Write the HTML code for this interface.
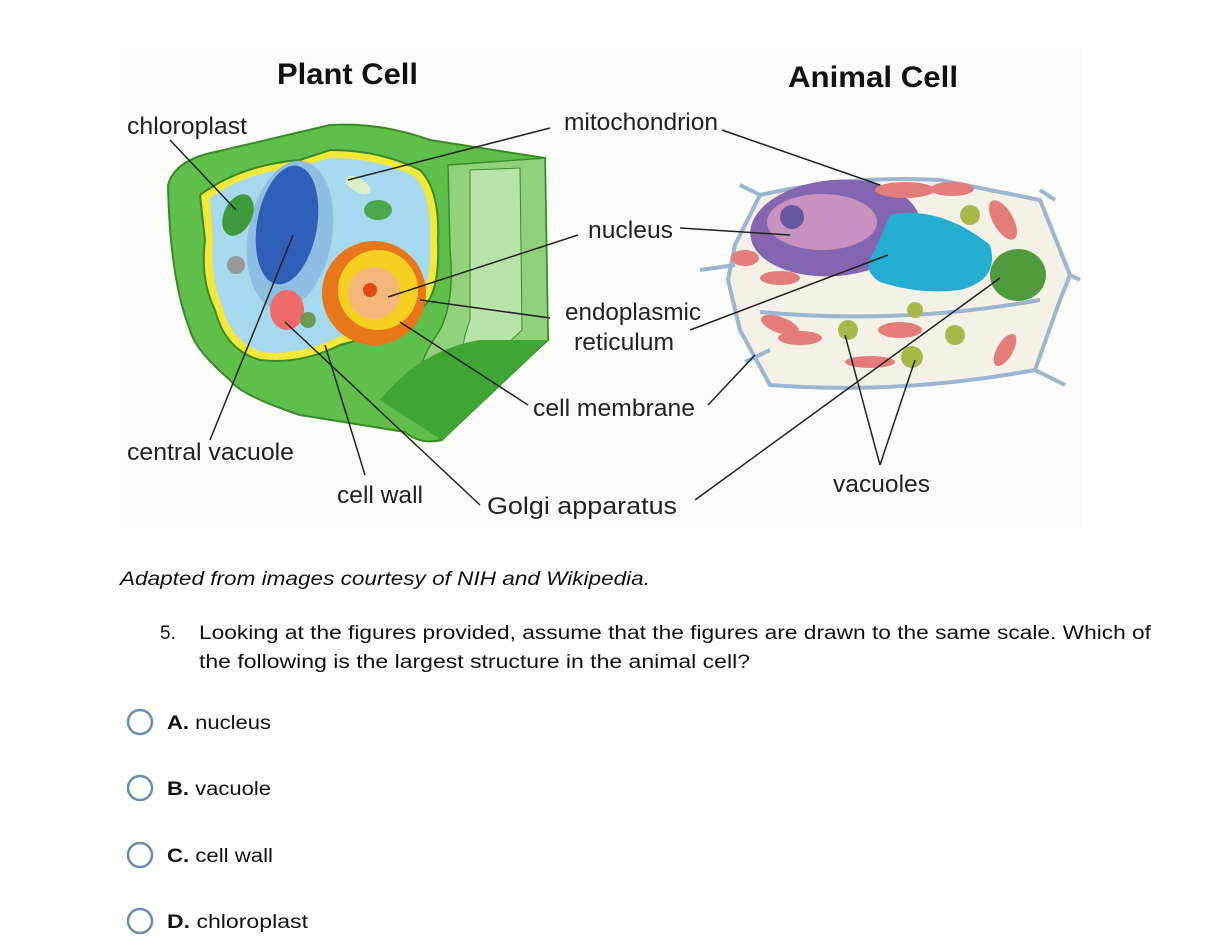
<!DOCTYPE html>
<html><head><meta charset="utf-8"><style>
html,body{margin:0;padding:0;background:#fff;width:1226px;height:949px;overflow:hidden}
svg{display:block}
.l{font-family:"Liberation Sans",sans-serif;font-size:24px;fill:#222}
.t{font-family:"Liberation Sans",sans-serif;font-size:30px;font-weight:bold;fill:#111}
.q{font-family:"Liberation Sans",sans-serif;font-size:19px;fill:#111}
</style></head><body>
<svg width="1226" height="949" viewBox="0 0 1226 949">
<rect x="120" y="48" width="963" height="480" fill="#fcfcfa"/>
<!-- PLANT CELL -->
<path d="M168,185 Q175,160 215,152 L330,125 Q380,122 430,140 L545,158 L548,340 L480,400 L442,440 Q420,445 405,432 L300,415 Q240,395 230,380 Q195,350 190,330 Q170,280 168,185Z" fill="#5fbf4a" stroke="#3a8a2a" stroke-width="2"/>
<path d="M448,165 L545,158 L548,340 L442,440 L420,420 Q405,380 440,330 Q455,300 450,250Z" fill="#8fd27a" stroke="#3a8a2a" stroke-width="1.5"/>
<path d="M470,170 L520,168 L522,330 L470,380 Q455,360 470,320Z" fill="#b8e3a6" stroke="#3a8a2a" stroke-width="1"/>
<path d="M380,400 Q420,350 480,340 L548,340 L442,440Z" fill="#3fa533"/>
<path d="M200,195 Q240,165 300,160 L330,150 Q380,150 420,170 Q440,190 438,240 Q440,290 425,305 Q400,330 340,345 Q300,365 260,360 Q225,350 215,310 Q200,280 205,240Z" fill="#f3e83a" stroke="#3a8a2a" stroke-width="2"/>
<path d="M210,198 Q245,172 300,167 L330,158 Q378,158 414,176 Q432,195 430,240 Q432,285 418,298 Q395,322 338,337 Q300,356 262,352 Q232,343 222,306 Q210,278 213,240Z" fill="#a6d8ee"/>
<ellipse cx="290" cy="235" rx="42" ry="75" fill="#8dbde0" transform="rotate(10 290 235)"/>
<ellipse cx="287" cy="225" rx="30" ry="60" fill="#2f5fb8" transform="rotate(10 287 225)"/>
<ellipse cx="238" cy="215" rx="14" ry="22" fill="#3e9a3a" transform="rotate(25 238 215)"/>
<ellipse cx="378" cy="210" rx="14" ry="10" fill="#4aa84a"/>
<ellipse cx="358" cy="185" rx="14" ry="7" fill="#d8f0c8" transform="rotate(30 358 185)"/>
<circle cx="236" cy="265" r="9" fill="#999"/>
<circle cx="374" cy="293" r="52" fill="#e8761a"/>
<circle cx="378" cy="290" r="40" fill="#f5d020"/>
<circle cx="374" cy="293" r="26" fill="#f6b87a"/>
<circle cx="370" cy="290" r="7" fill="#e04a10"/>
<ellipse cx="287" cy="310" rx="17" ry="20" fill="#f06a6a"/>
<circle cx="308" cy="320" r="8" fill="#6a9a5a"/>
<!-- ANIMAL CELL -->
<path d="M735,245 L760,195 Q850,175 940,180 L1040,200 L1070,275 L1060,300 L1035,370 Q900,395 770,385 L740,330 L728,280Z" fill="#f6f1e6" stroke="#9db6cf" stroke-width="4"/>
<path d="M760,312 Q900,325 1040,300 M700,270 L735,265 M740,185 L760,195 M1040,190 L1055,200 M1070,275 L1080,280 M1035,370 L1065,385 M745,362 L770,350" stroke="#9db6cf" stroke-width="4" fill="none"/>
<ellipse cx="835" cy="228" rx="85" ry="48" fill="#8466b0" transform="rotate(-5 835 228)"/>
<ellipse cx="822" cy="222" rx="55" ry="28" fill="#c792c0"/>
<circle cx="792" cy="217" r="12" fill="#6a55a0"/>
<path d="M890,215 Q940,205 990,245 Q1000,280 960,290 Q920,295 880,282 Q860,270 875,250Z" fill="#23aed0"/>
<ellipse cx="1018" cy="275" rx="28" ry="26" fill="#4f9a3a"/>
<g fill="#e57c7c">
<ellipse cx="905" cy="190" rx="30" ry="8"/><ellipse cx="952" cy="189" rx="22" ry="7"/><ellipse cx="1003" cy="220" rx="10" ry="22" transform="rotate(-30 1003 220)"/>
<ellipse cx="745" cy="258" rx="14" ry="8"/><ellipse cx="780" cy="278" rx="20" ry="7"/><ellipse cx="780" cy="325" rx="20" ry="8" transform="rotate(20 780 325)"/>
<ellipse cx="800" cy="338" rx="22" ry="7"/><ellipse cx="900" cy="330" rx="22" ry="8"/><ellipse cx="1005" cy="350" rx="8" ry="18" transform="rotate(30 1005 350)"/><ellipse cx="870" cy="362" rx="25" ry="6"/>
</g>
<g fill="#a8b84a"><circle cx="970" cy="215" r="10"/><circle cx="848" cy="330" r="10"/><circle cx="912" cy="357" r="11"/><circle cx="955" cy="335" r="10"/><circle cx="915" cy="310" r="8"/></g>
<!-- leader lines -->
<g stroke="#222" stroke-width="1.5" fill="none">
<path d="M170,140 L236,210"/><path d="M550,128 L348,180"/><path d="M722,130 L880,185"/>
<path d="M680,228 L790,235"/><path d="M578,235 L388,297"/><path d="M550,318 L420,300"/>
<path d="M690,330 L888,255"/><path d="M528,405 L400,322"/><path d="M708,405 L755,355"/>
<path d="M210,440 L293,235"/><path d="M365,475 L325,345"/><path d="M480,505 L285,322"/>
<path d="M695,500 L1000,278"/><path d="M880,465 L845,335"/><path d="M880,465 L915,360"/>
</g>
<text class="t" x="277" y="84" textLength="141" lengthAdjust="spacingAndGlyphs">Plant Cell</text>
<text class="t" x="788" y="87" textLength="170" lengthAdjust="spacingAndGlyphs">Animal Cell</text>
<text class="l" x="127" y="134" textLength="120" lengthAdjust="spacingAndGlyphs">chloroplast</text>
<text class="l" x="564" y="130" textLength="154" lengthAdjust="spacingAndGlyphs">mitochondrion</text>
<text class="l" x="588" y="238" textLength="85" lengthAdjust="spacingAndGlyphs">nucleus</text>
<text class="l" x="565" y="320" textLength="136" lengthAdjust="spacingAndGlyphs">endoplasmic</text>
<text class="l" x="574" y="350" textLength="100" lengthAdjust="spacingAndGlyphs">reticulum</text>
<text class="l" x="533" y="416" textLength="162" lengthAdjust="spacingAndGlyphs">cell membrane</text>
<text class="l" x="127" y="460" textLength="167" lengthAdjust="spacingAndGlyphs">central vacuole</text>
<text class="l" x="337" y="503" textLength="86" lengthAdjust="spacingAndGlyphs">cell wall</text>
<text class="l" x="487" y="514" textLength="190" lengthAdjust="spacingAndGlyphs">Golgi apparatus</text>
<text class="l" x="833" y="492" textLength="97" lengthAdjust="spacingAndGlyphs">vacuoles</text>
<!-- question -->
<text class="q" x="120" y="585" font-style="italic" textLength="530" lengthAdjust="spacingAndGlyphs">Adapted from images courtesy of NIH and Wikipedia.</text>
<text class="q" x="160" y="639" font-size="20">5.</text>
<text class="q" x="199" y="639" font-size="20" textLength="952" lengthAdjust="spacingAndGlyphs">Looking at the figures provided, assume that the figures are drawn to the same scale. Which of</text>
<text class="q" x="199" y="668" font-size="20" textLength="551" lengthAdjust="spacingAndGlyphs">the following is the largest structure in the animal cell?</text>
<g fill="none" stroke="#6a8bb0" stroke-width="2.5">
<circle cx="140" cy="722" r="12"/><circle cx="140" cy="788" r="12"/><circle cx="140" cy="855" r="12"/><circle cx="140" cy="921" r="12"/>
</g>
<text class="q" x="167" y="729" font-size="21" textLength="104" lengthAdjust="spacingAndGlyphs"><tspan font-weight="bold">A.</tspan> nucleus</text>
<text class="q" x="167" y="795" font-size="21" textLength="104" lengthAdjust="spacingAndGlyphs"><tspan font-weight="bold">B.</tspan> vacuole</text>
<text class="q" x="167" y="862" font-size="21" textLength="106" lengthAdjust="spacingAndGlyphs"><tspan font-weight="bold">C.</tspan> cell wall</text>
<text class="q" x="167" y="928" font-size="21" textLength="141" lengthAdjust="spacingAndGlyphs"><tspan font-weight="bold">D.</tspan> chloroplast</text>
</svg>
</body></html>
